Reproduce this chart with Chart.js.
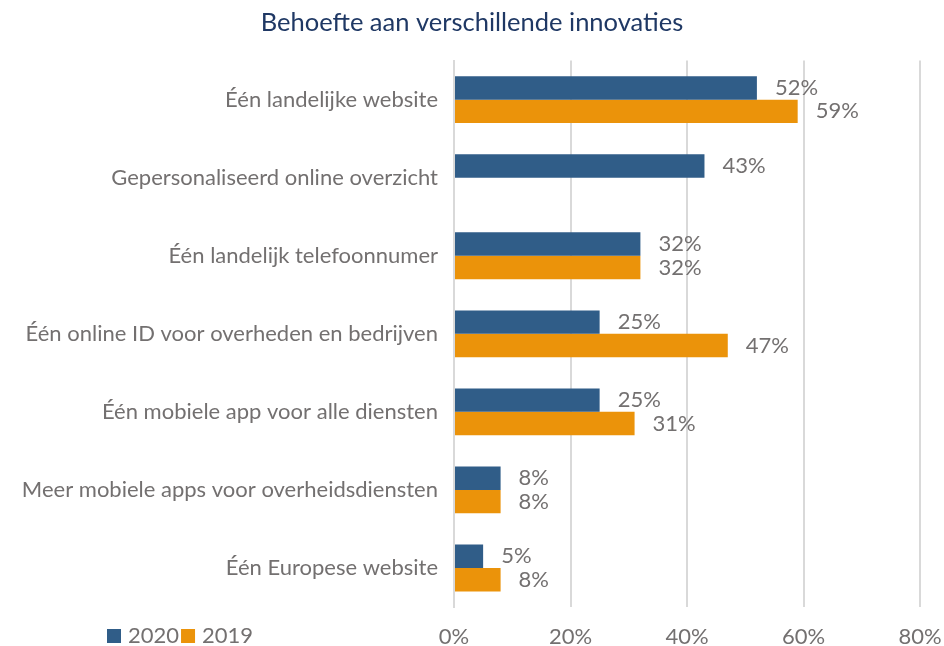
<!DOCTYPE html>
<html>
<head>
<meta charset="utf-8">
<script src="https://cdn.jsdelivr.net/npm/chart.js@4"></script>
<style>
  body { margin: 0; background: #ffffff; }
  #wrap { width: 944px; height: 646px; }
</style>
</head>
<body>
<div id="wrap"><canvas id="chart"></canvas></div>
<script>
const categories = [
  'Één landelijke website',
  'Gepersonaliseerd online overzicht',
  'Één landelijk telefoonnumer',
  'Één online ID voor overheden en bedrijven',
  'Één mobiele app voor alle diensten',
  'Meer mobiele apps voor overheidsdiensten',
  'Één Europese website'
];
const values_2020 = [52, 43, 32, 25, 25, 8, 5];
const values_2019 = [59, null, 32, 47, 31, 8, 8];
const x_ticks = [0, 20, 40, 60, 80];

const blue = '#305d88';
const orange = '#eb930a';
const grey_text = '#737070';
const font_name = 'Lato';
const font_size = 22;

// value labels at the end of each bar
const barLabels = {
  id: 'barLabels',
  afterDatasetsDraw(chart) {
    const ctx = chart.ctx;
    ctx.save();
    ctx.font = `${font_size}px ${font_name}`;
    ctx.fillStyle = grey_text;
    ctx.textBaseline = 'middle';
    ctx.textAlign = 'left';
    chart.data.datasets.forEach(function (ds, i) {
      chart.getDatasetMeta(i).data.forEach(function (bar, j) {
        if (ds.data[j] == null) return;
        ctx.fillText(`${ds.data[j]}%`, bar.x + 18, bar.y);
      });
    });
    ctx.restore();
  }
};

// legend drawn in the bottom left corner, level with the x ticks
const bottomLegend = {
  id: 'bottomLegend',
  afterDraw(chart) {
    const ctx = chart.ctx;
    ctx.save();
    ctx.font = `${font_size}px ${font_name}`;
    ctx.textBaseline = 'middle';
    ctx.textAlign = 'left';
    var x = 107;
    var y = 636;
    chart.data.datasets.forEach(function (ds) {
      ctx.fillStyle = ds.backgroundColor;
      ctx.fillRect(x, y - 7, 14, 14);
      ctx.fillStyle = grey_text;
      ctx.fillText(ds.label, x + 21, y);
      x += 21 + ctx.measureText(ds.label).width + 2;
    });
    ctx.restore();
  }
};

new Chart(document.getElementById('chart'), {
  type: 'bar',
  data: {
    labels: categories,
    datasets: [
      { label: '2020', data: values_2020, backgroundColor: blue },
      { label: '2019', data: values_2019, backgroundColor: orange }
    ]
  },
  options: {
    indexAxis: 'y',
    responsive: true,
    maintainAspectRatio: false,
    animation: false,
    datasets: { bar: { barPercentage: 1, categoryPercentage: 0.6 } },
    layout: { padding: 0 },
    plugins: {
      legend: { display: false },
      tooltip: { enabled: false },
      title: {
        display: true,
        text: 'Behoefte aan verschillende innovaties',
        color: '#1f3864',
        font: { family: font_name, size: 25.5, weight: 'normal' },
        padding: { top: 7, bottom: 23 }
      }
    },
    scales: {
      x: {
        min: 0,
        max: 80,
        afterBuildTicks: function (scale) { scale.ticks = x_ticks.map(v => ({ value: v })); },
        afterFit: function (scale) {
          scale.height = 39;
          scale.paddingLeft = 0;
          scale.paddingRight = 24;
        },
        grid: { color: '#d9d9d9', lineWidth: 2, drawTicks: false },
        border: { display: false },
        ticks: {
          padding: 17,
          color: grey_text,
          font: { family: font_name, size: font_size },
          callback: function (v) { return v + '%'; }
        }
      },
      y: {
        afterFit: function (scale) { scale.width = 454; },
        grid: { display: false, drawTicks: false },
        border: { color: '#d9d9d9', width: 2 },
        ticks: {
          padding: 16,
          color: grey_text,
          font: { family: font_name, size: font_size }
        }
      }
    }
  },
  plugins: [barLabels, bottomLegend]
});
</script>
</body>
</html>
